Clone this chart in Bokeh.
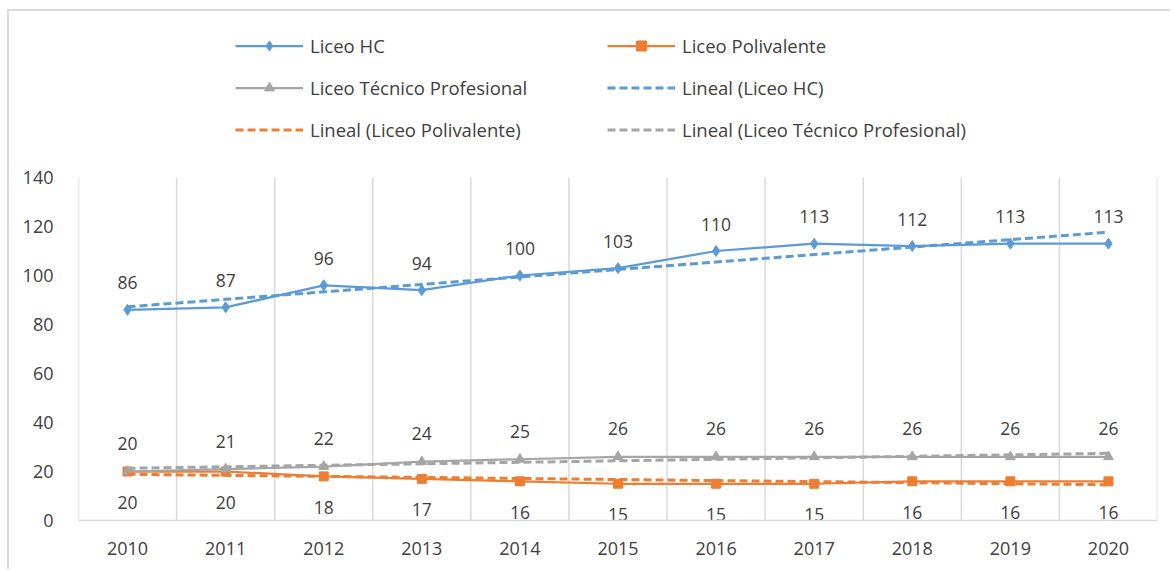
import numpy as np
from bokeh.plotting import figure
from bokeh.models import Range1d, FixedTicker, Legend, LegendItem
from bokeh.embed import file_html
from bokeh.resources import INLINE
from bokeh.core.properties import value

years = [2010, 2011, 2012, 2013, 2014, 2015, 2016, 2017, 2018, 2019, 2020]
liceo_hc = [86, 87, 96, 94, 100, 103, 110, 113, 112, 113, 113]
liceo_poli = [20, 20, 18, 17, 16, 15, 15, 15, 16, 16, 16]
liceo_tp = [20, 21, 22, 24, 25, 26, 26, 26, 26, 26, 26]
y_ticks = [0, 20, 40, 60, 80, 100, 120, 140]

BLUE = "#5B9BD5"
ORANGE = "#ED7D31"
GRAY = "#A5A5A5"
TXT = "#404040"
GRID = "#D9D9D9"
FONT = "Open Sans"

# layout (page pixels)
FIG_W, FIG_H = 1163, 560          # figure starts at page (9, 11)
FRAME_TOP_PAGE = 11
AXIS_TOP_PAGE = 177               # where y = 140 sits
AXIS_BOTTOM_PAGE = 520            # where y = 0 sits
y_top = y_ticks[-1] * (AXIS_BOTTOM_PAGE - FRAME_TOP_PAGE) / (AXIS_BOTTOM_PAGE - AXIS_TOP_PAGE)

p = figure(width=FIG_W, height=FIG_H,
           x_range=Range1d(years[0] - 0.5, years[-1] + 0.5),
           y_range=Range1d(0, y_top),
           output_backend="svg", toolbar_location=None,
           min_border_left=69, min_border_right=15,
           min_border_top=0, min_border_bottom=51)
p.outline_line_color = None
p.background_fill_color = "white"
p.border_fill_color = "white"
p.styles = {"margin-left": "7px", "margin-top": "9px",
            "border-top": "2px solid #D9D9D9", "border-left": "2px solid #D9D9D9"}

# axes
p.xaxis.ticker = FixedTicker(ticks=years)
p.xaxis.axis_line_color = GRID
p.xaxis.axis_line_width = 1.5
p.xaxis.major_tick_line_color = None
p.xaxis.minor_tick_line_color = None
p.xaxis.major_label_text_font = FONT
p.xaxis.major_label_text_font_size = "18px"
p.xaxis.major_label_text_color = TXT
p.xaxis.major_label_standoff = 15

p.yaxis.ticker = FixedTicker(ticks=y_ticks)
p.yaxis.axis_line_color = None
p.yaxis.major_tick_line_color = None
p.yaxis.minor_tick_line_color = None
p.yaxis.major_label_text_font = FONT
p.yaxis.major_label_text_font_size = "18px"
p.yaxis.major_label_text_color = TXT
p.yaxis.major_label_standoff = 19

p.xgrid.grid_line_color = None
p.ygrid.grid_line_color = None

# vertical category-boundary gridlines, from 0 to top tick
bounds = [y - 0.5 for y in years] + [years[-1] + 0.5]
p.segment(x0=bounds, y0=[y_ticks[0]] * len(bounds), x1=bounds, y1=[y_ticks[-1]] * len(bounds),
          line_color=GRID, line_width=1.5)

x = np.array(years, dtype=float)

def trend(vals):
    k, b = np.polyfit(x - x[0], np.array(vals, dtype=float), 1)
    return list(b + k * (x - x[0]))

series = [
    ("Liceo HC", liceo_hc, BLUE, "diamond", 11),
    ("Liceo Polivalente", liceo_poli, ORANGE, "square", 9),
    ("Liceo Técnico Profesional", liceo_tp, GRAY, "triangle", 10),
]

renders = {}
for name, vals, col, mk, sz in series:
    ln = p.line(years, vals, line_color=col, line_width=2.25)
    sc = p.scatter(years, vals, marker=mk, size=sz, fill_color=col, line_color=col)
    renders[name] = [ln, sc]

tr = {}
for name, vals, col, mk, sz in series:
    t = p.line(years, trend(vals), line_color=col, line_width=3, line_dash="8 4")
    tr[name] = [t]

# data labels
lab_style = dict(text_font=value(FONT), text_font_size="17.5px", text_color=TXT,
                 text_align="center", text_baseline="middle")
p.text(years, liceo_hc, text=[str(v) for v in liceo_hc], y_offset=-27, **lab_style)
p.text(years, liceo_tp, text=[str(v) for v in liceo_tp], y_offset=-28, **lab_style)
p.text(years, liceo_poli, text=[str(v) for v in liceo_poli], y_offset=31, **lab_style)

leg_style = dict(label_text_font=FONT, label_text_font_size="18.5px", label_text_color=TXT,
                 label_text_baseline="middle",
                 glyph_width=68, glyph_height=25, label_height=25, label_standoff=7,
                 spacing=17, padding=0, margin=0,
                 background_fill_alpha=0, border_line_alpha=0)

leg1 = Legend(items=[
    LegendItem(label="Liceo HC", renderers=renders["Liceo HC"]),
    LegendItem(label="Liceo Técnico Profesional", renderers=renders["Liceo Técnico Profesional"]),
    LegendItem(label="Lineal (Liceo Polivalente)", renderers=tr["Liceo Polivalente"]),
], location=(157, 378), **leg_style)
leg2 = Legend(items=[
    LegendItem(label="Liceo Polivalente", renderers=renders["Liceo Polivalente"]),
    LegendItem(label="Lineal (Liceo HC)", renderers=tr["Liceo HC"]),
    LegendItem(label="Lineal (Liceo Técnico Profesional)", renderers=tr["Liceo Técnico Profesional"]),
], location=(529, 378), **leg_style)
p.add_layout(leg1, "center")
p.add_layout(leg2, "center")

open("out.html", "w").write(file_html(p, INLINE))
